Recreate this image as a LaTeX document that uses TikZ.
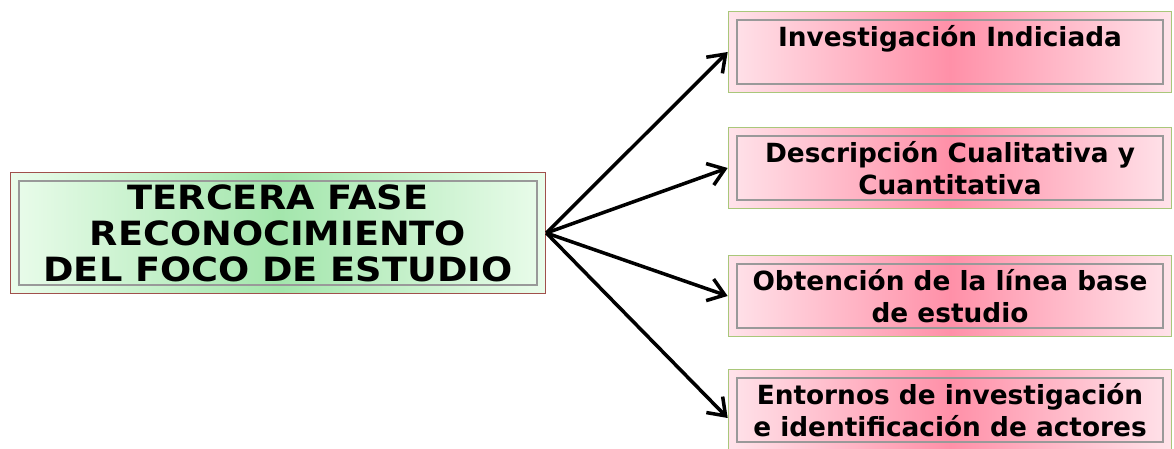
\documentclass[tikz,border=0pt]{standalone}
\usepackage{fontspec}
\setmainfont{DejaVu Sans}
\newfontfamily\widefont[FakeStretch=1.1]{DejaVu Sans}
\usetikzlibrary{arrows.meta}
\definecolor{fasegreen}{HTML}{A3E6AC}
\definecolor{faselight}{HTML}{EAFCEB}
\definecolor{faseframe}{HTML}{A0504C}
\definecolor{itempink}{HTML}{FF90A8}
\definecolor{itemlight}{HTML}{FFE3EA}
\definecolor{itemframe}{HTML}{A9C77A}
\begin{document}
\begin{tikzpicture}[x=0.02cm, y=-0.02cm,
    bevel/.style={path picture={
        \draw[gray!80, line width=1.2pt]
          ([shift={(5pt,-5pt)}]path picture bounding box.north west) rectangle
          ([shift={(-5pt,5pt)}]path picture bounding box.south east);}},
    phase/.style={draw=faseframe, line width=1pt, left color=faselight, right color=faselight,
        middle color=fasegreen, bevel, minimum width=10.7cm, minimum height=2.42cm, align=center,
        font=\widefont\fontsize{19}{20.5}\selectfont\bfseries},
    item/.style={draw=itemframe, line width=1pt, left color=itemlight, right color=itemlight,
        middle color=itempink, bevel, minimum width=8.86cm, minimum height=1.62cm, align=center,
        font=\fontsize{15}{18.5}\selectfont\bfseries},
    link/.style={-{Straight Barb[length=9pt, width=13pt]}, line width=2pt}]
  \useasboundingbox (0,0) rectangle (1174,449);

  \node[phase] (fase) at (278,233) {TERCERA FASE\\RECONOCIMIENTO\\DEL FOCO DE ESTUDIO};

  \node[item] (indiciada) at (950,52) {Investigación Indiciada\\\mbox{}};
  \node[item] (descripcion) at (950,168) {Descripción Cualitativa y\\Cuantitativa};
  \node[item] (lineabase) at (950,296) {Obtención de la línea base\\de estudio};
  \node[item] (entornos) at (950,410) {Entornos de investigación\\e identificación de actores};

  \draw[link] (fase.east) -- (indiciada.west);
  \draw[link] (fase.east) -- (descripcion.west);
  \draw[link] (fase.east) -- (lineabase.west);
  \draw[link] (fase.east) -- ([yshift=-0.16cm]entornos.west);
\end{tikzpicture}
\end{document}
